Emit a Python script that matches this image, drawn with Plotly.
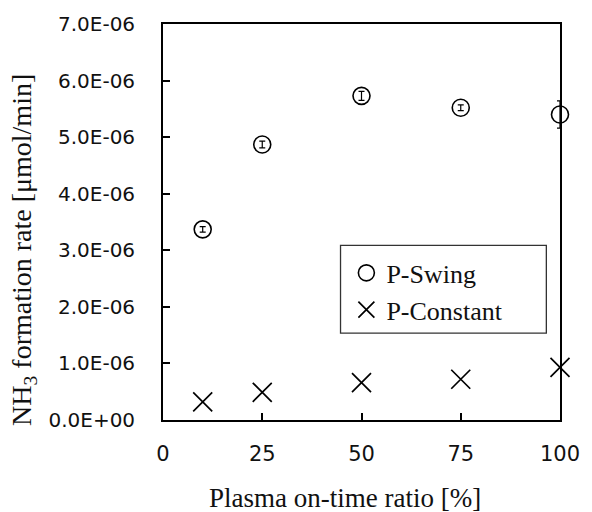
import plotly.graph_objects as go

# Data
on_time_ratio = [10, 25, 50, 75, 100]
p_swing = [3.37e-6, 4.87e-6, 5.73e-6, 5.52e-6, 5.40e-6]
p_swing_err = [0.05e-6, 0.06e-6, 0.08e-6, 0.05e-6, 0.24e-6]
p_constant = [0.32e-6, 0.49e-6, 0.66e-6, 0.72e-6, 0.93e-6]

y_tick_vals = [0, 1e-6, 2e-6, 3e-6, 4e-6, 5e-6, 6e-6, 7e-6]
y_tick_text = ["0.0E+00", "1.0E-06", "2.0E-06", "3.0E-06", "4.0E-06", "5.0E-06", "6.0E-06", "7.0E-06"]
x_tick_vals = [0, 25, 50, 75, 100]

x_title = "Plasma on-time ratio [%]"
y_title = "NH<sub>3</sub> formation rate [μmol/min]"

serif = "Liberation Serif, Times New Roman, serif"
sans = "DejaVu Sans, sans-serif"

fig = go.Figure()
fig.add_trace(go.Scatter(
    x=on_time_ratio, y=p_swing, mode="markers", name="P-Swing",
    marker=dict(symbol="circle-open", size=17, color="black", line=dict(width=1.6, color="black")),
    error_y=dict(type="data", array=p_swing_err, visible=True, color="black", thickness=1.2, width=3),
    cliponaxis=False,
))
fig.add_trace(go.Scatter(
    x=on_time_ratio, y=p_constant, mode="markers", name="P-Constant",
    marker=dict(symbol="x-thin-open", size=19, color="black", line=dict(width=1.7, color="black")),
    cliponaxis=False,
))

# plot area: x 163..570, y 23..420 (px)
fig.update_layout(
    width=592, height=512,
    margin=dict(l=163, r=22, t=23, b=92),
    paper_bgcolor="white", plot_bgcolor="white",
    showlegend=True,
    legend=dict(
        x=(351 - 163) / 407, y=(420 - 249) / 397, xanchor="left", yanchor="top",
        bgcolor="rgba(0,0,0,0)", borderwidth=0,
        font=dict(family=serif, size=26, color="#111"),
        tracegroupgap=0, itemwidth=30,
    ),
    font=dict(family=sans, color="black"),
    shapes=[dict(
        type="rect", xref="paper", yref="paper",
        x0=(345 - 163) / 407, x1=(556 - 163) / 407,
        y0=(420 - 333) / 397, y1=(420 - 245) / 397,
        line=dict(color="#333", width=1.3), fillcolor="white", layer="below",
    )],
    annotations=[
        dict(text=x_title, xref="paper", yref="paper", x=(350 - 163) / 407, y=(420 - 498) / 397,
             xanchor="center", yanchor="middle", showarrow=False,
             font=dict(family=serif, size=27, color="#111")),
        dict(text=y_title, xref="paper", yref="paper", x=(20 - 163) / 407, y=(420 - 250) / 397,
             xanchor="center", yanchor="middle", showarrow=False, textangle=-90,
             font=dict(family=serif, size=28, color="#111")),
    ],
)
fig.update_xaxes(
    range=[0, 100], tickvals=x_tick_vals, ticks="inside", ticklen=7, tickwidth=1.5, tickcolor="black",
    showline=True, linecolor="black", linewidth=1.8, mirror=True, showgrid=False, zeroline=False,
    tickfont=dict(family=sans, size=21, color="#111"), ticklabelstandoff=14,
)
fig.update_yaxes(
    range=[0, 7e-6], tickvals=y_tick_vals, ticktext=y_tick_text, ticks="inside", ticklen=7, tickwidth=1.5,
    tickcolor="black", showline=True, linecolor="black", linewidth=1.8, mirror=True, showgrid=False, zeroline=False,
    tickfont=dict(family=sans, size=20, color="#111"), ticklabelstandoff=22,
)

fig.write_html("out.html")
